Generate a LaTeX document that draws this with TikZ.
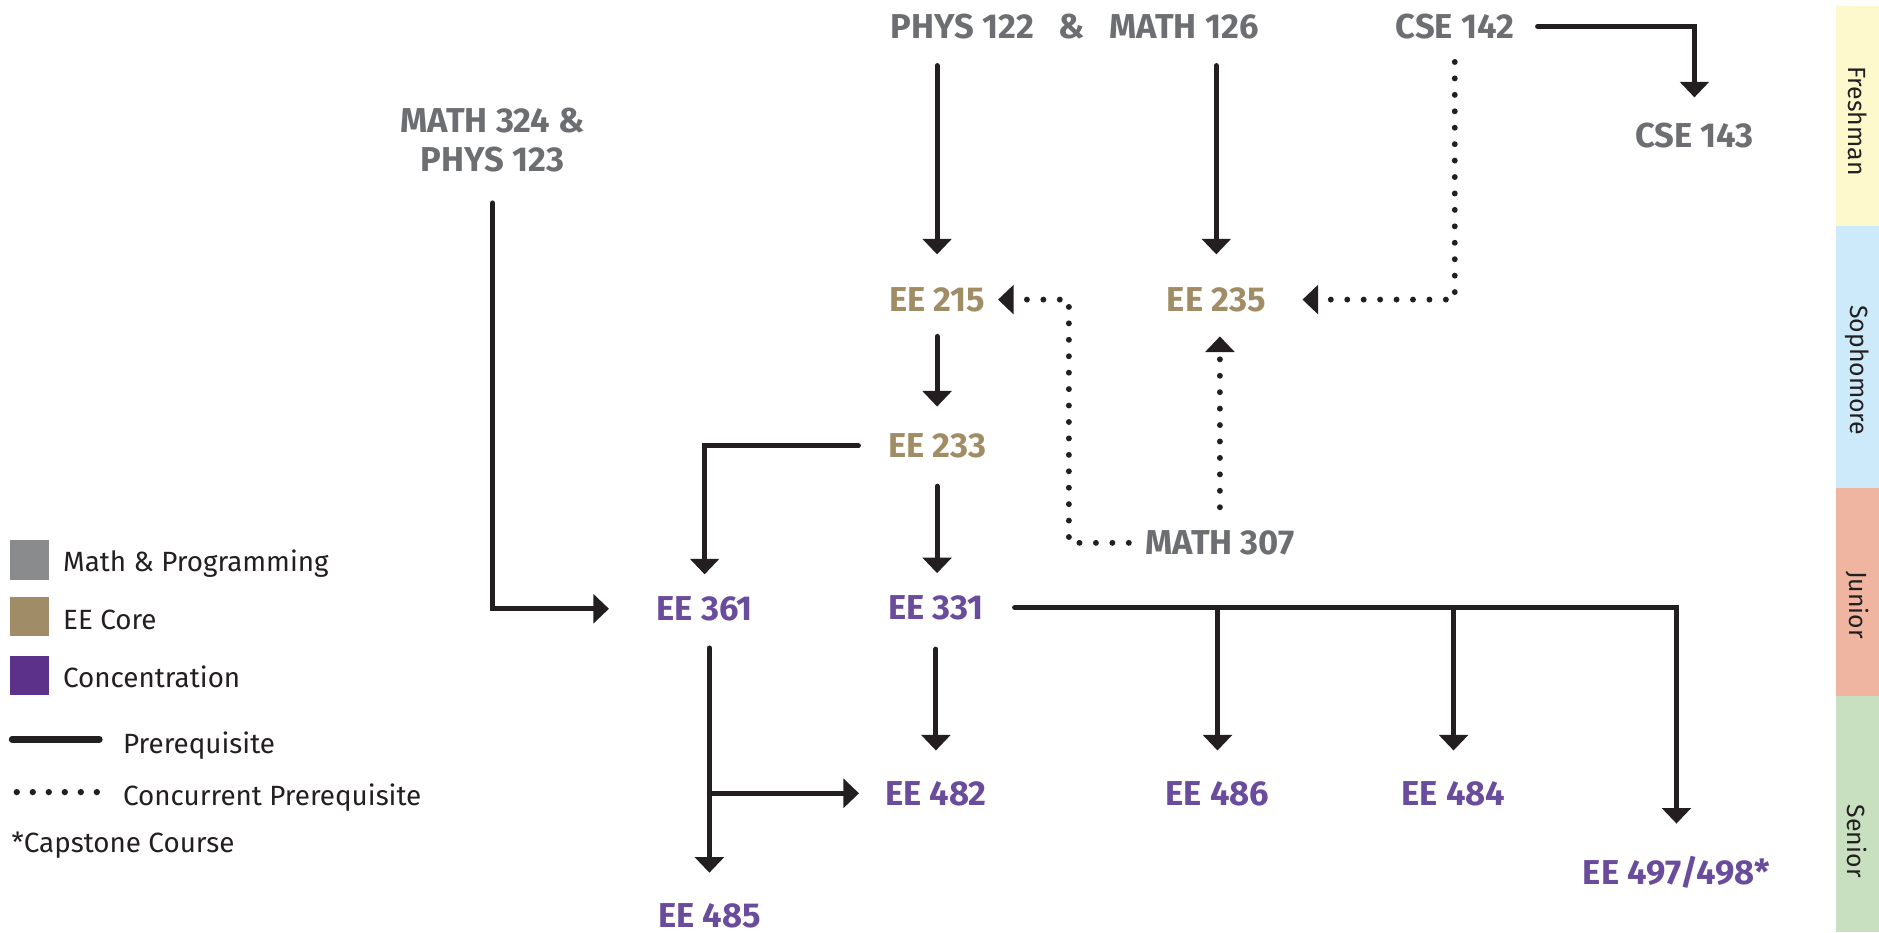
\documentclass[tikz,border=0pt]{standalone}
\usepackage{fontspec}
\setmainfont{Fira Sans}
\usetikzlibrary{arrows.meta}
\definecolor{mathgray}{HTML}{6D6E71}
\definecolor{coregold}{HTML}{A08D66}
\definecolor{concpurple}{HTML}{6A4C9C}
\definecolor{boxgray}{HTML}{8A8B8D}
\definecolor{boxgold}{HTML}{A08C67}
\definecolor{boxpurple}{HTML}{5B3189}
\definecolor{arrowblack}{HTML}{231F20}
\definecolor{freshyellow}{HTML}{FEF9CC}
\definecolor{sophblue}{HTML}{CCEAF9}
\definecolor{junred}{HTML}{EFB5A1}
\definecolor{seniorgreen}{HTML}{C8E0C0}
\begin{document}
\begin{tikzpicture}[x=0.01cm,y=-0.01cm,
  course/.style={font=\fontsize{8.2}{9.2}\selectfont\bfseries,inner sep=0pt,text height=0.2cm,text depth=0pt},
  mathc/.style={course,text=mathgray},
  corec/.style={course,text=coregold},
  concc/.style={course,text=concpurple},
  pre/.style={draw=arrowblack,line width=1.2pt,line cap=round,shorten <=0.22cm,shorten >=0.22cm,-{Triangle[width=6.8pt,length=3.7pt]}},
  conc/.style={draw=arrowblack,line width=1.4pt,line cap=round,dash pattern=on 0pt off 3.9pt,shorten <=0.2cm,shorten >=0.2cm,-{Triangle[width=6.8pt,length=3.7pt]}},
  legend/.style={font=\fontsize{6.6}{8}\selectfont,text=arrowblack,inner sep=0pt,text height=0.16cm,text depth=0pt,anchor=west},
  year/.style={font=\fontsize{5.9}{7}\selectfont,text=arrowblack,inner sep=0pt,rotate=-90}]
\useasboundingbox (0,0) rectangle (1568,778);
% year bands
\fill[freshyellow] (1532,5) rectangle (1568,189);
\fill[sophblue] (1532,189) rectangle (1568,407);
\fill[junred] (1532,407) rectangle (1568,581);
\fill[seniorgreen] (1532,581) rectangle (1568,778);
\node[year] (fresh) at (1550,101) {Freshman};
\node[year] (soph) at (1550,309) {Sophomore};
\node[year] (junior) at (1550,505) {Junior};
\node[year] (senior) at (1550,702) {Senior};
% legend
\fill[boxgray] (8,451) rectangle (41,484);
\fill[boxgold] (8,498) rectangle (41,531);
\fill[boxpurple] (8,547) rectangle (41,580);
\node[legend] (lmath) at (52,469) {Math \& Programming};
\node[legend] (lcore) at (52,517) {EE Core};
\node[legend] (lconc) at (52,566) {Concentration};
\draw[arrowblack,line width=1.5pt,line cap=round] (10,617) -- (83,617);
\draw[arrowblack,line width=1.5pt,line cap=round,dash pattern=on 0pt off 3.8pt] (14,661) -- (81,661);
\node[legend] (lpre) at (102,621) {Prerequisite};
\node[legend] (lcpre) at (102,664) {Concurrent Prerequisite};
\node[legend] (lcap) at (9,703) {*Capstone Course};
% courses
\node[mathc] (phys122) at (803,22) {PHYS 122};
\node[mathc] (amp) at (894,22) {\&};
\node[mathc] (math126) at (988,22) {MATH 126};
\node[mathc] (cse142) at (1214,22) {CSE 142};
\node[mathc] (cse143) at (1414,113) {CSE 143};
\node[mathc,align=center,text height=,text depth=] (math324) at (411,117) {MATH 324 \&\\PHYS 123};
\node[corec] (ee215) at (782,250) {EE 215};
\node[corec] (ee235) at (1015,250) {EE 235};
\node[corec] (ee233) at (782,372) {EE 233};
\node[mathc] (math307) at (1018,453) {MATH 307};
\node[concc] (ee361) at (588,508) {EE 361};
\node[concc] (ee331) at (781,507) {EE 331};
\node[concc] (ee482) at (781,662) {EE 482};
\node[concc] (ee486) at (1016,662) {EE 486};
\node[concc] (ee484) at (1213,662) {EE 484};
\node[concc] (ee497) at (1399,728) {EE 497/498*};
\node[concc] (ee485) at (592,764) {EE 485};
% prerequisites
\draw[pre,shorten >=0.27cm] (ee215 |- phys122.south) -- (ee215.north);
\draw[pre,shorten >=0.27cm] (ee235 |- math126.south) -- (ee235.north);
\draw[pre,shorten <=0.19cm,shorten >=0.21cm] (cse142.east) -| (cse143.north);
\draw[pre,shorten <=0.25cm,shorten >=0.39cm] (math324.south) |- (ee361.west);
\draw[pre,shorten <=0.2cm] (ee215.south) -- (ee233.north);
\draw[pre,shorten <=0.24cm,shorten >=0.18cm] (ee233.west) -| (ee361.north);
\draw[pre,shorten <=0.23cm,shorten >=0.18cm] (ee233.south) -- (ee233.south |- ee331.north);
\draw[pre,shorten >=0.25cm] (ee485 |- ee361.south) -- (ee485.north);
\draw[pre,shorten <=0pt,shorten >=0.21cm] (ee485 |- ee482) -- (ee482.west);
\draw[pre,shorten <=0.24cm,shorten >=0.25cm] (ee331.south) -- (ee482.north);
\draw[pre,shorten <=0.25cm,shorten >=0.3cm] (ee331.east) -| (ee497.north);
\draw[pre,shorten <=0pt,shorten >=0.25cm] (ee331.east -| ee486) -- (ee486.north);
\draw[pre,shorten <=0pt,shorten >=0.25cm] (ee331.east -| ee484) -- (ee484.north);
% concurrent prerequisites
\draw[conc,shorten <=0.19cm,shorten >=0.3cm] (cse142.south) |- (ee235.east);
\draw[conc,shorten <=0.13cm,shorten >=0.1cm] (math307.west) -- ++(-63,0) |- (ee215.east);
\draw[conc,shorten <=0.19cm,shorten >=0.2cm] (math307.north) -- (math307.north |- ee235.south);
\end{tikzpicture}
\end{document}
